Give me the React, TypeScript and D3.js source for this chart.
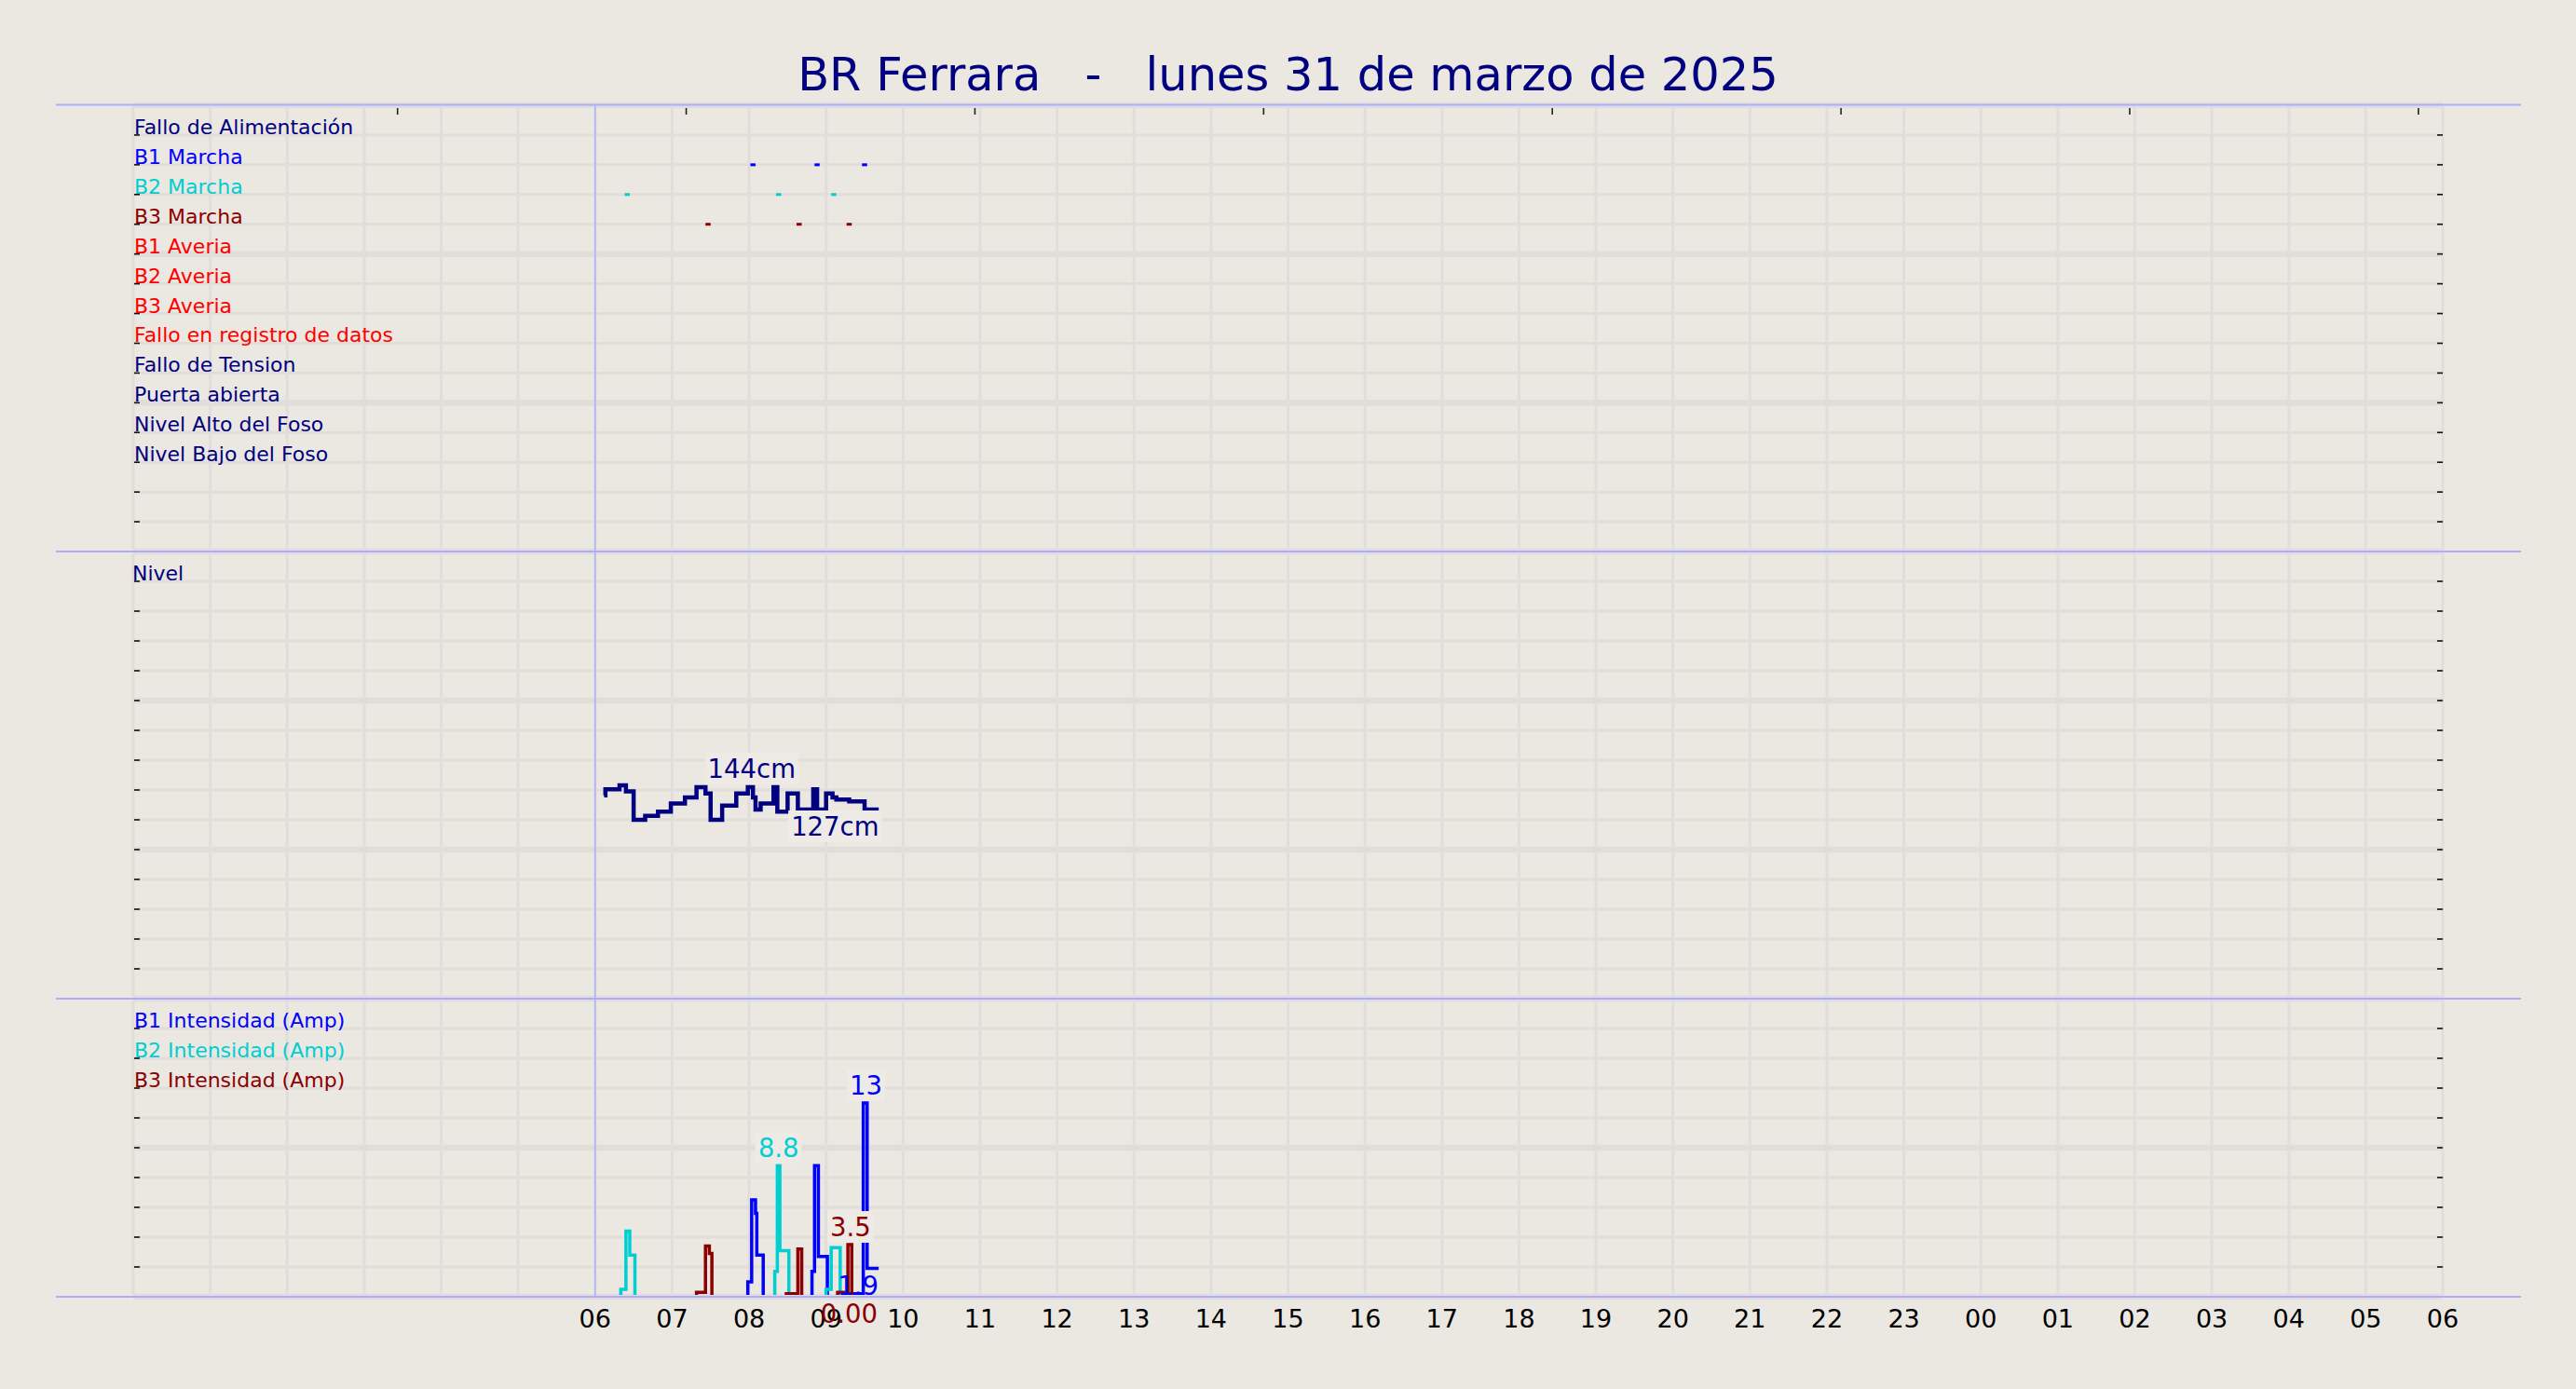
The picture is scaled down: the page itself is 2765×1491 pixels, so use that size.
import React, { useEffect, useRef } from 'react';
import * as d3 from 'd3';

const W = 2765;
const H = 1491;

const TITLE = 'BR Ferrara   -   lunes 31 de marzo de 2025';

// time axis: midnight of the day to 06:00 of the next one
const X_START = '00:00';
const X_END = '30:00';
const FIRST_LABEL = '06:00';
const MARKER_TIME = '06:00';
const TOP_TICKS = ['03:26', '07:11', '10:56', '14:41', '18:26', '22:11', '25:56', '29:41'];

// --- panel 1: events ---
const EVENT_ROWS = [
    'Fallo de Alimentación',
    'B1 Marcha',
    'B2 Marcha',
    'B3 Marcha',
    'B1 Averia',
    'B2 Averia',
    'B3 Averia',
    'Fallo en registro de datos',
    'Fallo de Tension',
    'Puerta abierta',
    'Nivel Alto del Foso',
    'Nivel Bajo del Foso',
];
const EVENT_COLORS = [
    '#000080', '#0000ff', '#00ced1', '#8b0000', '#ff0000', '#ff0000',
    '#ff0000', '#ff0000', '#000080', '#000080', '#000080', '#000080',
];
const B1_STARTS = ['08:01', '08:51', '09:28'];
const B2_STARTS = ['06:23', '08:21', '09:04'];
const B3_STARTS = ['07:26', '08:37', '09:16'];
const MARK_MINUTES = 4;

// --- panel 2: level (cm) ---
const LEVEL_LABEL = 'Nivel';
const LEVEL_TIMES = [
    '06:07', '06:08', '06:19', '06:24', '06:30', '06:39', '06:49', '06:59', '07:10', '07:19',
    '07:26', '07:30', '07:39', '07:50', '07:59', '08:03', '08:05', '08:09', '08:19', '08:22',
    '08:30', '08:38', '08:50', '08:53', '09:00', '09:05', '09:08', '09:18', '09:30', '09:33',
    '09:41',
];
const LEVEL_CM = [
    139, 142, 144, 141, 127, 129, 131, 135, 138, 143,
    140, 127, 134, 140, 143, 138, 132, 135, 143, 131,
    140, 132, 142, 132, 140, 138, 137, 136, 129, 132,
    132,
];
const LEVEL_DOMAIN = [39, 259];
const LEVEL_MAX = { time: '08:02', value: 144, text: '144cm' };
const LEVEL_MIN = { time: '09:07', value: 127, text: '127cm' };

// --- panel 3: pump currents (A) ---
const AMP_LEGEND = ['B1 Intensidad (Amp)', 'B2 Intensidad (Amp)', 'B3 Intensidad (Amp)'];
const AMP_COLORS = ['#0000ff', '#00ced1', '#8b0000'];
const B1_TIMES = [
    '07:59', '07:59', '08:02', '08:05', '08:06', '08:11',
    '08:49', '08:49', '08:51', '08:54', '09:01',
    '09:12', '09:12', '09:29', '09:32', '09:41',
];
const B1_AMPS = [0, 1.0, 6.5, 5.6, 2.8, 0, 0, 1.7, 8.8, 2.7, 0, 0, 0.2, 13, 1.9, 1.9];
const B2_TIMES = [
    '06:20', '06:20', '06:24', '06:27', '06:31',
    '08:20', '08:20', '08:22', '08:24', '08:31',
    '09:00', '09:00', '09:04', '09:11', '09:41',
];
const B2_AMPS = [0, 0.5, 4.4, 2.8, 0, 0, 1.7, 8.8, 3.1, 0, 0, 0.5, 3.3, 0, 0];
const B3_TIMES = [
    '07:19', '07:19', '07:26', '07:29', '07:31',
    '08:29', '08:29', '08:38', '08:41',
    '09:09', '09:09', '09:17', '09:20', '09:41',
];
const B3_AMPS = [0, 0.3, 3.4, 2.9, 0, 0, 0.2, 3.2, 0, 0, 0.3, 3.5, 0, 0];
const AMP_PEAKS = [
    { time: '09:31', value: 13, text: '13', color: '#0000ff' },
    { time: '08:23', value: 8.8, text: '8.8', color: '#00ced1' },
    { time: '09:19', value: 3.5, text: '3.5', color: '#8b0000' },
];
const AMP_LAST = [
    { time: '09:25', value: 1.9, text: '1.9', color: '#0000ff' },
    { time: '09:18', value: 0, text: '0.00', color: '#8b0000' },
];

const BG = '#ebe7e1';
const GRID = '#e1dddb';
const SEP = '#adadff';
const NAVY = '#000080';
const FONT = '"DejaVu Sans", Verdana, sans-serif';

const at = (s: string) => {
    const [h, m] = s.split(':').map(Number);
    return new Date(2025, 2, 31, h, m);
};

const drawChart = (el: SVGSVGElement) => {
    const svg = d3.select(el);
    svg.selectAll('*').remove();

    svg.append('rect').attr('width', W).attr('height', H).attr('fill', BG);

    const left = 143;
    const right = 2622;
    const x = d3.scaleTime().domain([at(X_START), at(X_END)]).range([left, right]);
    const hours = x.ticks(d3.timeHour.every(1) as d3.TimeInterval);

    const panels = [
        { y: d3.scaleLinear().domain([0, 15]).range([592, 113]), step: 1, major: 5 },
        { y: d3.scaleLinear().domain([0, 15]).range([1072, 592]), step: 1, major: 5 },
        { y: d3.scaleLinear().domain([0, 20]).range([1392, 1072]), step: 2, major: 10 },
    ];

    // --- grid + ticks ---
    const gridG = svg.append('g');
    panels.forEach(p => {
        const [d0, d1] = p.y.domain();
        const [bottom, top] = p.y.range();
        const values = d3.range(d0, d1 + p.step / 2, p.step);
        values.forEach(v => {
            gridG.append('line')
                .attr('x1', left).attr('x2', right)
                .attr('y1', p.y(v)).attr('y2', p.y(v))
                .attr('stroke', GRID)
                .attr('stroke-width', v % p.major === 0 ? 6.5 : 3);
        });
        hours.forEach(h => {
            gridG.append('line')
                .attr('x1', x(h)).attr('x2', x(h))
                .attr('y1', top).attr('y2', bottom)
                .attr('stroke', GRID)
                .attr('stroke-width', 3);
        });
        values.filter(v => v > d0 && v < d1).forEach(v => {
            gridG.append('line')
                .attr('x1', left + 1).attr('x2', left + 7)
                .attr('y1', p.y(v)).attr('y2', p.y(v))
                .attr('stroke', '#111').attr('stroke-width', 1.6);
            gridG.append('line')
                .attr('x1', right - 6).attr('x2', right)
                .attr('y1', p.y(v)).attr('y2', p.y(v))
                .attr('stroke', '#111').attr('stroke-width', 1.6);
        });
    });

    TOP_TICKS.forEach(t => {
        gridG.append('line')
            .attr('x1', x(at(t))).attr('x2', x(at(t)))
            .attr('y1', 116).attr('y2', 123)
            .attr('stroke', '#222').attr('stroke-width', 1.6);
    });

    // 06:00 marker
    svg.append('line')
        .attr('x1', x(at(MARKER_TIME))).attr('x2', x(at(MARKER_TIME)))
        .attr('y1', 113).attr('y2', 1392)
        .attr('stroke', SEP).attr('stroke-width', 1.5);

    // --- panel 1 ---
    const y1 = panels[0].y;
    EVENT_ROWS.forEach((label, i) => {
        svg.append('text')
            .attr('x', left + 1)
            .attr('y', y1(14 - i) - 1)
            .style('font-family', FONT)
            .style('font-size', '22px')
            .style('fill', EVENT_COLORS[i])
            .text(label);
    });
    [B1_STARTS, B2_STARTS, B3_STARTS].forEach((starts, k) => {
        starts.forEach(s => {
            svg.append('line')
                .attr('x1', x(at(s)))
                .attr('x2', x(d3.timeMinute.offset(at(s), MARK_MINUTES)))
                .attr('y1', y1(13 - k)).attr('y2', y1(13 - k))
                .attr('stroke', AMP_COLORS[k])
                .attr('stroke-width', 3);
        });
    });

    // --- panel 2 ---
    const y2 = panels[1].y;
    svg.append('text')
        .attr('x', left - 1)
        .attr('y', y2(14) - 1)
        .style('font-family', FONT)
        .style('font-size', '22px')
        .style('fill', NAVY)
        .text(LEVEL_LABEL);

    const yLevel = d3.scaleLinear().domain(LEVEL_DOMAIN).range([1072, 592]);
    const levelLine = d3.line<[Date, number]>()
        .x(d => x(d[0]))
        .y(d => yLevel(d[1]))
        .curve(d3.curveStepAfter);
    svg.append('path')
        .attr('d', levelLine(LEVEL_TIMES.map((t, i) => [at(t), LEVEL_CM[i]] as [Date, number])) || '')
        .attr('fill', 'none')
        .attr('stroke', NAVY)
        .attr('stroke-width', 4.5);

    // --- panel 3 ---
    const y3 = panels[2].y;
    AMP_LEGEND.forEach((label, i) => {
        svg.append('text')
            .attr('x', left + 1)
            .attr('y', y3(18 - i * 2) - 1)
            .style('font-family', FONT)
            .style('font-size', '22px')
            .style('fill', AMP_COLORS[i])
            .text(label);
    });

    svg.append('clipPath').attr('id', 'amp-clip')
        .append('rect')
        .attr('x', left).attr('y', 1072)
        .attr('width', right - left).attr('height', 1390 - 1072);

    const ampLine = d3.line<[Date, number]>()
        .x(d => x(d[0]))
        .y(d => y3(d[1]))
        .curve(d3.curveStepAfter);
    const ampSeries: [string[], number[]][] = [[B1_TIMES, B1_AMPS], [B2_TIMES, B2_AMPS], [B3_TIMES, B3_AMPS]];
    ampSeries.forEach(([times, amps], i) => {
        svg.append('path')
            .attr('clip-path', 'url(#amp-clip)')
            .attr('d', ampLine(times.map((t, j) => [at(t), amps[j]] as [Date, number])) || '')
            .attr('fill', 'none')
            .attr('stroke', AMP_COLORS[i])
            .attr('stroke-width', 3.5);
    });

    // value labels with a light box behind
    const boxedLabel = (cx: number, baseline: number, text: string, color: string) => {
        const g = svg.append('g');
        const rect = g.append('rect').attr('fill', '#eeebe6');
        const t = g.append('text')
            .attr('x', cx).attr('y', baseline)
            .attr('text-anchor', 'middle')
            .style('font-family', FONT)
            .style('font-size', '27.5px')
            .style('fill', color)
            .text(text);
        const bb = (t.node() as SVGTextElement).getBBox();
        rect.attr('x', bb.x - 3).attr('y', bb.y - 1)
            .attr('width', bb.width + 6).attr('height', bb.height + 2);
    };

    boxedLabel(x(at(LEVEL_MAX.time)), yLevel(LEVEL_MAX.value) - 8, LEVEL_MAX.text, NAVY);
    boxedLabel(x(at(LEVEL_MIN.time)), yLevel(LEVEL_MIN.value) + 17, LEVEL_MIN.text, NAVY);
    AMP_PEAKS.forEach(d => boxedLabel(x(at(d.time)), y3(d.value) - 9, d.text, d.color));

    // --- x tick labels ---
    hours.filter(h => h >= at(FIRST_LABEL)).forEach(h => {
        svg.append('text')
            .attr('x', x(h)).attr('y', 1425)
            .attr('text-anchor', 'middle')
            .style('font-family', FONT)
            .style('font-size', '27px')
            .style('fill', '#000')
            .text(d3.timeFormat('%H')(h));
    });

    AMP_LAST.forEach(d => {
        svg.append('text')
            .attr('x', x(at(d.time))).attr('y', y3(d.value) + 28)
            .attr('text-anchor', 'middle')
            .style('font-family', FONT)
            .style('font-size', '27.5px')
            .style('fill', d.color)
            .text(d.text);
    });

    // --- separators ---
    [112.5, 592, 1072, 1392].forEach(yy => {
        svg.append('line')
            .attr('x1', 60).attr('x2', 2706)
            .attr('y1', yy).attr('y2', yy)
            .attr('stroke', SEP).attr('stroke-width', 1.8);
    });

    // --- title ---
    svg.append('text')
        .attr('x', W / 2).attr('y', 97)
        .attr('text-anchor', 'middle')
        .attr('xml:space', 'preserve')
        .style('white-space', 'pre')
        .style('font-family', FONT)
        .style('font-size', '49.5px')
        .style('fill', NAVY)
        .text(TITLE);
};

const App: React.FC = () => {
    const ref = useRef<SVGSVGElement | null>(null);

    useEffect(() => {
        if (ref.current) drawChart(ref.current);
    }, []);

    return (
        <svg
            ref={ref}
            width={W}
            height={H}
            style={{ position: 'absolute', left: 0, top: 0, display: 'block' }}
        />
    );
};

export default App;
